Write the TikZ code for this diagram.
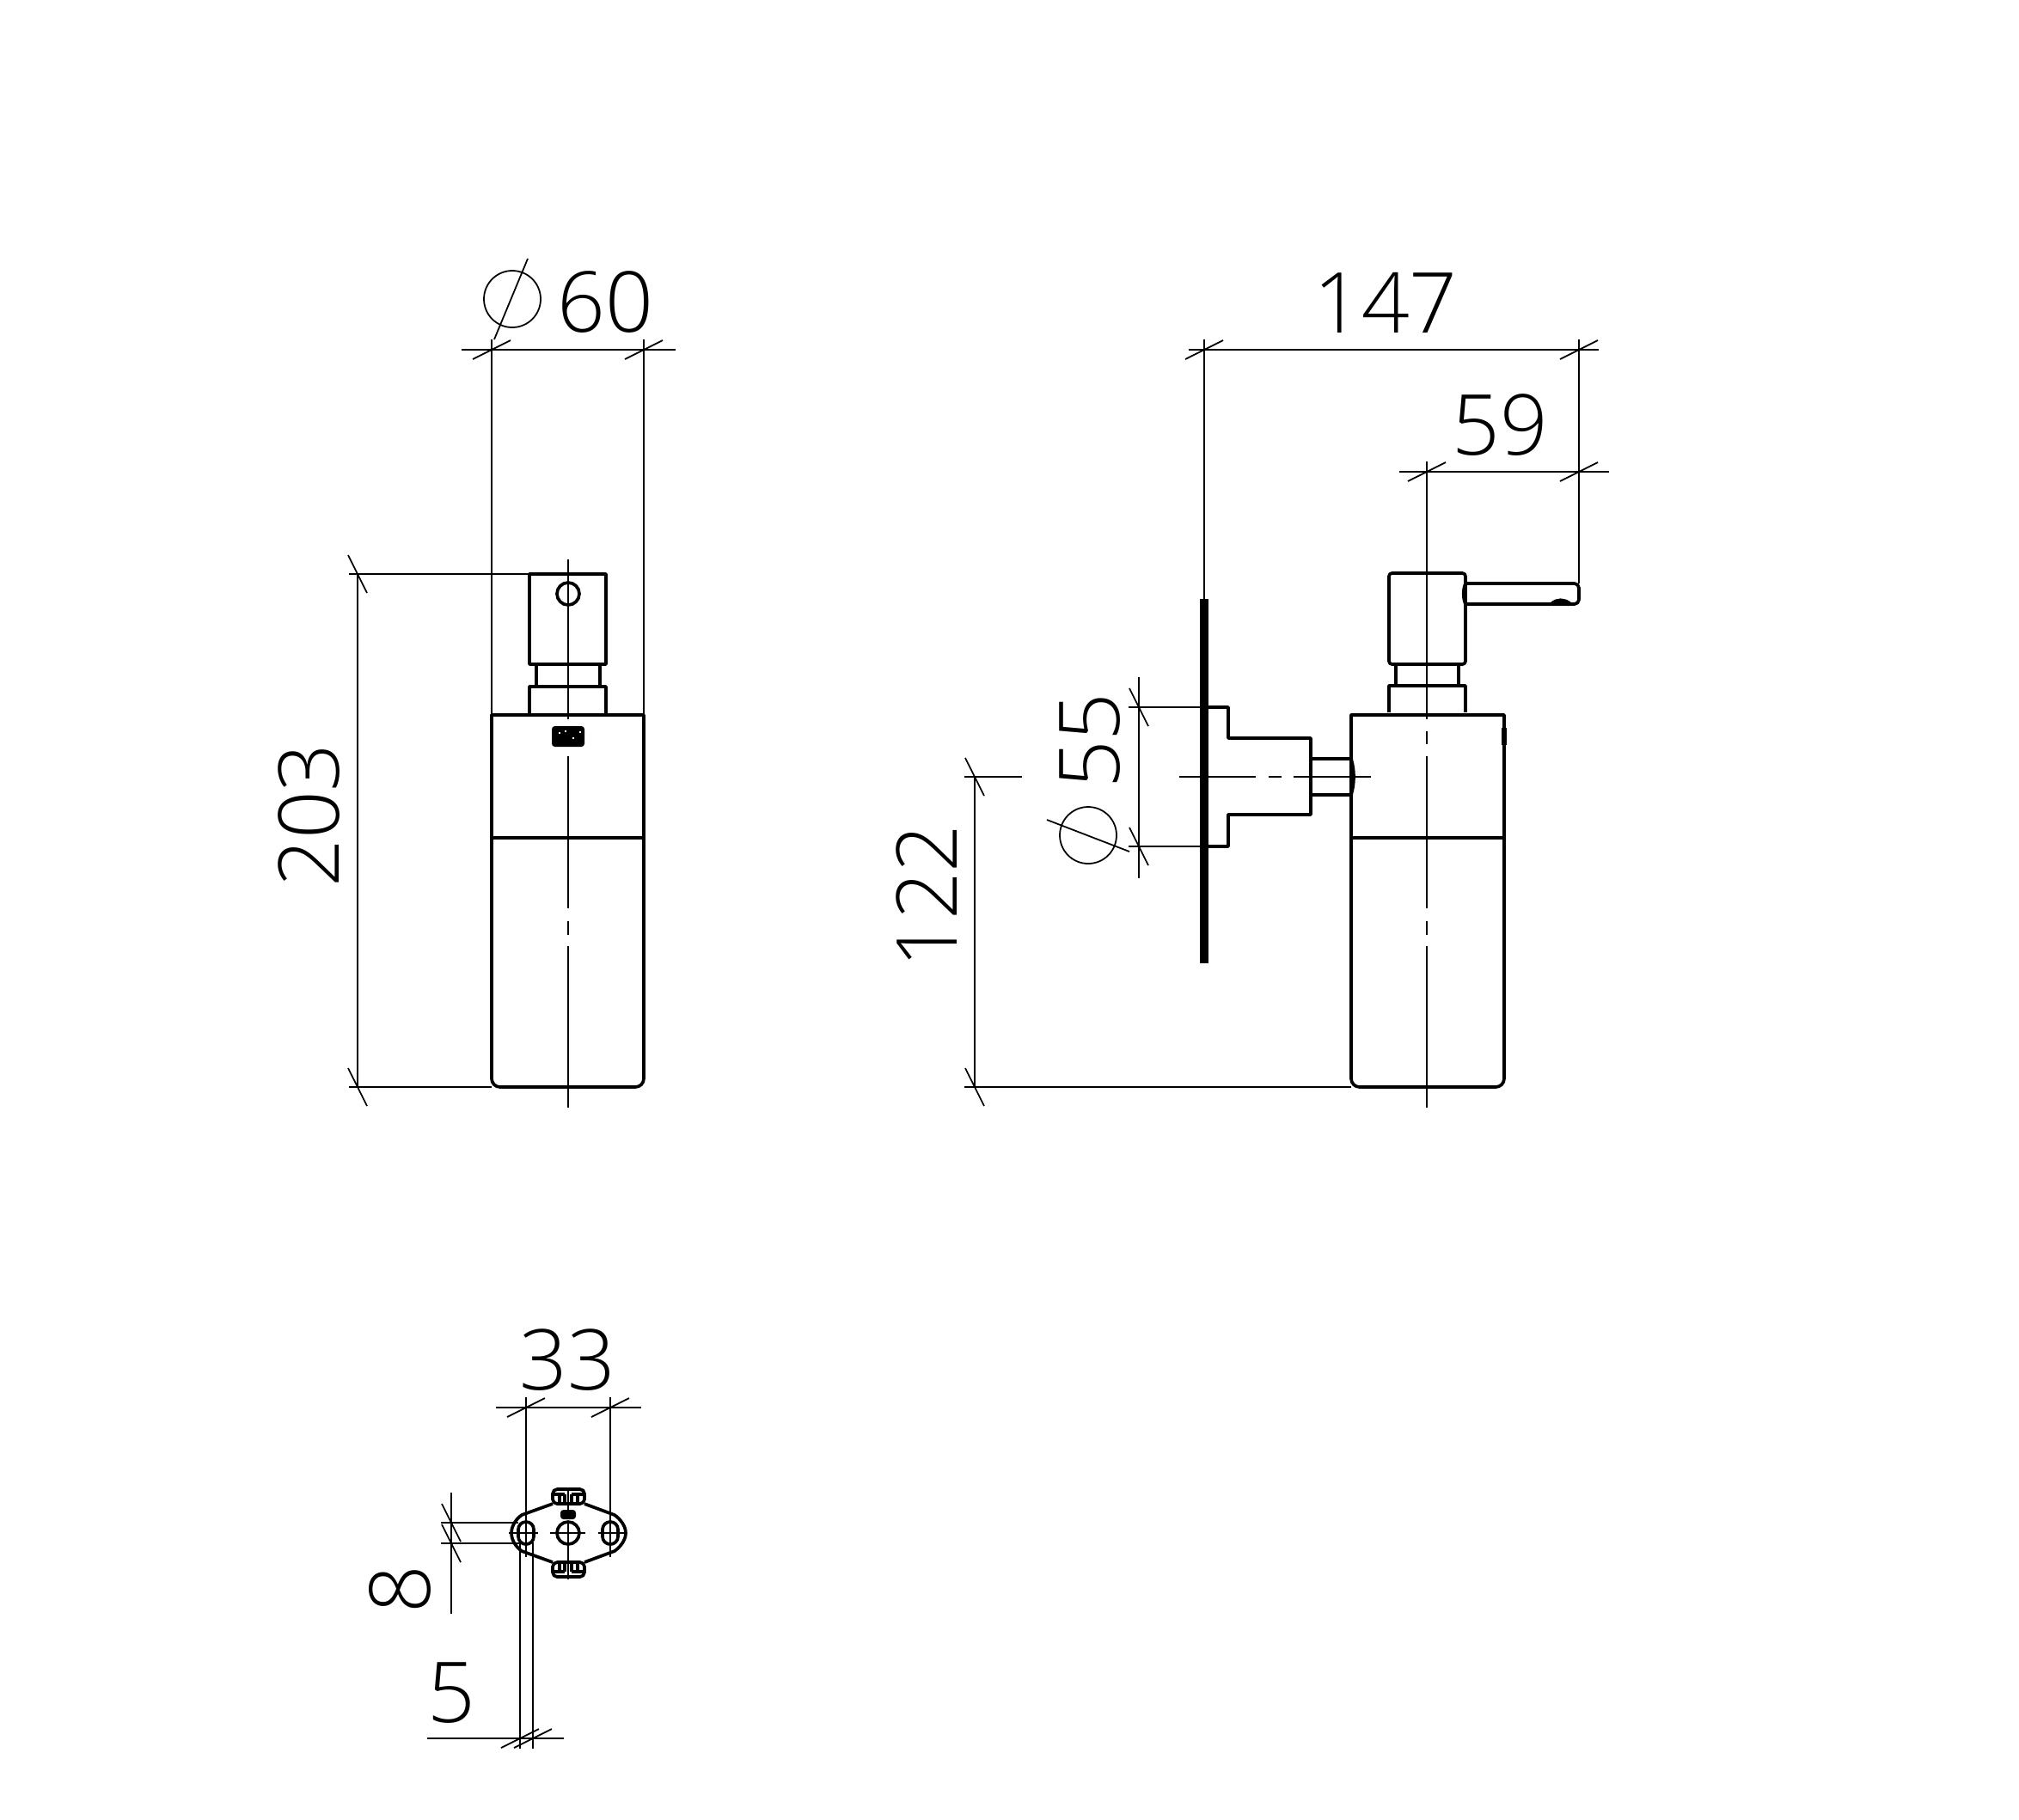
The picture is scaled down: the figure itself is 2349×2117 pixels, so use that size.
\documentclass[tikz,border=0pt]{standalone}
\usepackage{fontspec}
\setmainfont{Open Sans}[UprightFont=* Light]
\tikzset{
	thinline/.style={line width=0.5pt},
	outline/.style={line width=1.05pt, line join=round},
	dimtext/.style={font=\fontsize{27.8}{30}\selectfont, inner sep=0pt}
}
\begin{document}
\begin{tikzpicture}[x=0.01cm, y=-0.01cm]
	\useasboundingbox (0,0) rectangle (2349,2117);
	
	% front view
	\draw[outline] (616,773) rectangle (705,668);
	\draw[outline] (661,691) circle[radius=13];
	\draw[outline] (624,773) -- (624,799) (698,773) -- (698,799);
	\draw[outline] (616,830) -- (616,799) -- (705,799) -- (705,830);
	\draw[outline, rounded corners=2.8pt] (572,975) -- (572,1265) -- (749,1265) -- (749,975);
	\draw[outline] (572,975) -- (572,832) -- (749,832) -- (749,975) -- cycle;
	\fill[black, rounded corners=1pt] (642,845) rectangle (680,869);
	\foreach \x/\y in {650/852,657/850,666/858,674/851} {
		\fill[white] (\x,\y) rectangle (\x+2,\y+2);
	}
	
	% side view
	\fill[black] (1396,697) rectangle (1406,1121);
	\draw[outline, rounded corners=1pt] (1616,773) rectangle (1705,667);
	\draw[outline] (1624,773) -- (1624,798) (1697,773) -- (1697,798);
	\draw[outline] (1616,829) -- (1616,798) -- (1705,798) -- (1705,829);
	\draw[outline, rounded corners=2.8pt] (1572,975) -- (1572,1265) -- (1750,1265) -- (1750,975);
	\draw[outline] (1572,975) -- (1572,832) -- (1750,832) -- (1750,975) -- cycle;
	\draw[line width=1.8pt] (1750,847) -- (1750,867);
	\draw[outline, rounded corners=1.5pt] (1705,679) -- (1837,679) -- (1837,703) -- (1705,703);
	\draw[outline] (1705,679) .. controls (1702,686) and (1702,696) .. (1705,703);
	\draw[line width=1.6pt] (1806,703) .. controls (1812,698) and (1819,698) .. (1826,703);
	\draw[outline] (1406,823) -- (1429,823) -- (1429,859) -- (1525,859) -- (1525,948) -- (1429,948) -- (1429,985) -- (1406,985);
	\draw[outline] (1525,883) -- (1572,883) (1525,925) -- (1572,925);
	\draw[outline] (1572,883) .. controls (1576,897) and (1576,911) .. (1572,925);
	
	% wall plate seen from the front
	\draw[outline] (643,1750) -- (607,1763) .. controls (600,1768) and (595,1776) .. (595,1784) .. controls (595,1792) and (600,1800) .. (607,1805) -- (643,1818);
	\draw[outline] (680,1750) -- (715,1763) .. controls (722,1768) and (728,1776) .. (728,1784) .. controls (728,1792) and (722,1800) .. (715,1805) -- (680,1818);
	\foreach \y/\z/\w in {1750/1733/1739,1818/1835/1829} {
		\draw[outline, rounded corners=1.5pt] (643,\y) -- (643,\z) -- (680,\z) -- (680,\y) -- cycle;
		\draw[outline] (643,\w) -- (657,\w) (665,\w) -- (680,\w);
		\draw[outline] (651,\y) -- (651,\w) (672,\y) -- (672,\w) (657,\y) -- (657,\w) (665,\y) -- (665,\w);
	}
	\foreach \x in {612,710} {
		\draw[outline, rounded corners=2.5pt] (\x-9,1771) rectangle (\x+9,1797);
	}
	\draw[outline] (661,1784) circle[radius=13];
	\fill[black, rounded corners=1pt] (652,1757) rectangle (670,1768);
	
	% center lines
	\foreach \x in {661,1660} {
		\draw[thinline] (\x,880) -- (\x,1057) (\x,1072) -- (\x,1088) (\x,1101) -- (\x,1289);
	}
	\draw[thinline] (661,651) -- (661,837);
	\draw[thinline] (1660,537) -- (1660,837) (1660,851) -- (1660,866);
	\draw[thinline] (1372,904) -- (1461,904) (1476,904) -- (1491,904) (1505,904) -- (1595,904);
	\draw[thinline] (592,1784) -- (626,1784) (640,1784) -- (681,1784) (696,1784) -- (730,1784);
	\draw[thinline] (661,1771) -- (661,1797) (661,1798) -- (661,1838) (661,1733) -- (661,1757);
	
	% dimension lines
	\draw[thinline] (537,407) -- (786,407);
	\draw[thinline] (572,395) -- (572,832) (749,395) -- (749,832);
	\draw[thinline] (406,668) -- (616,668) (406,1265) -- (572,1265) (416,668) -- (416,1265);
	\draw[thinline] (1383,407) -- (1860,407) (1401,395) -- (1401,697) (1837,395) -- (1837,679);
	\draw[thinline] (1628,549) -- (1872,549);
	\draw[thinline] (1122,904) -- (1189,904) (1122,1265) -- (1572,1265) (1134,904) -- (1134,1265);
	\draw[thinline] (1325,788) -- (1325,1022) (1313,823) -- (1396,823) (1313,985) -- (1396,985);
	\draw[thinline] (577,1638) -- (746,1638) (612,1626) -- (612,1812) (710,1626) -- (710,1812);
	\draw[thinline] (525,1737) -- (525,1878) (513,1772) -- (603,1772) (513,1796) -- (605,1796);
	\draw[thinline] (497,2023) -- (656,2023) (605,1795) -- (605,2035) (620,1795) -- (620,2035);
	\foreach \x/\y in {572/407,749/407,1401/407,1837/407,1660/549,1837/549,612/1638,710/1638,605/2023,620/2023} {
		\draw[thinline] (\x-22,\y+11) -- (\x+22,\y-11);
	}
	\foreach \x/\y in {416/668,416/1265,1134/904,1134/1265,1325/823,1325/985,525/1772,525/1796} {
		\draw[thinline] (\x-11,\y-22) -- (\x+11,\y+22);
	}
	
	% diameter signs
	\draw[thinline] (596,348) circle[radius=33] (575,395) -- (614,301);
	\draw[thinline] (1266,972) circle[radius=33] (1218,954) -- (1314,991);
	
	\node[dimtext] (widthfront) at (704,352) {60};
	\node[dimtext] (heightfront) at (360,949) [rotate=90] {203};
	\node[dimtext] (depth) at (1612,352) {147};
	\node[dimtext] (reach) at (1745,495) {59};
	\node[dimtext] (axis) at (1078,1043) [rotate=90] {122};
	\node[dimtext] (plate) at (1268,862) [rotate=90] {55};
	\node[dimtext] (holes) at (660,1583) {33};
	\node[dimtext] (slotlength) at (465,1850) [rotate=90] {8};
	\node[dimtext] (slotwidth) at (525,1970) {5};
\end{tikzpicture}
\end{document}
